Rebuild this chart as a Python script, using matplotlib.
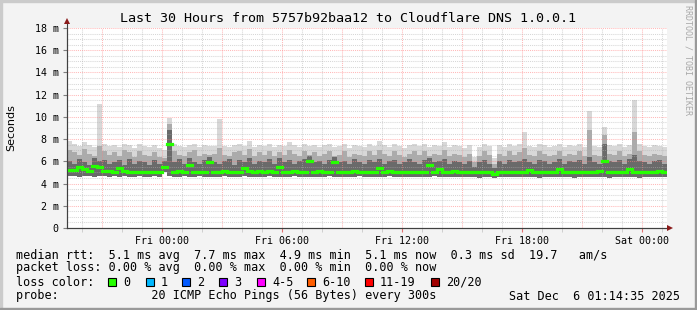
import numpy as np
import matplotlib
matplotlib.use("Agg")
import matplotlib.pyplot as plt
from matplotlib.lines import Line2D
from matplotlib.patches import Rectangle

# 15 minute bins, hours since Thu 00:00 (window Thu 19:14 -> Sat 01:14)
t_start = 19.243
t_end = 49.243

median = [5.2, 5.2, 5.5, 5.3, 5.1, 5.6, 5.5, 5.1, 5.1, 5.0,
          5.4, 5.1, 5.0, 5.0, 5.0, 5.0, 5.0, 5.0, 5.0, 5.5,
          7.6, 5.0, 5.1, 5.0, 5.7, 5.0, 5.0, 5.0, 5.9, 5.0,
          5.0, 5.1, 5.0, 5.0, 5.0, 5.4, 5.1, 5.0, 5.1, 5.0,
          5.1, 5.0, 5.5, 5.0, 5.0, 5.1, 5.0, 5.0, 6.0, 5.0,
          5.1, 5.0, 5.0, 5.9, 5.0, 5.0, 5.0, 5.1, 5.0, 5.0,
          5.0, 5.0, 5.4, 5.0, 5.1, 5.0, 5.0, 5.0, 5.0, 5.0,
          5.0, 5.0, 5.7, 5.0, 5.3, 5.0, 5.0, 5.1, 5.0, 5.0,
          5.0, 5.0, 5.0, 5.0, 5.0, 4.9, 5.0, 5.0, 5.0, 5.0,
          5.0, 5.0, 5.2, 5.0, 5.0, 5.0, 5.0, 5.0, 5.3, 5.0,
          5.0, 5.0, 5.0, 5.0, 5.0, 5.0, 5.1, 6.0, 5.0, 5.0,
          5.0, 5.0, 5.3, 5.0, 5.0, 5.0, 5.0, 5.0, 5.1, 5.0]

smoke_hi = [7.8, 7.6, 7.4, 7.7, 7.5, 7.3, 11.2, 7.6, 7.4, 7.5,
            7.3, 7.6, 7.5, 7.2, 7.6, 7.4, 7.3, 7.5, 7.2, 7.0,
            9.9, 7.6, 7.4, 7.3, 7.5, 7.6, 7.3, 7.5, 7.4, 7.4,
            9.8, 7.4, 7.3, 7.5, 7.6, 7.4, 7.8, 7.3, 7.5, 7.4,
            7.6, 7.3, 7.5, 7.4, 7.7, 7.5, 7.3, 7.6, 7.4, 7.5,
            7.3, 7.5, 7.6, 7.3, 7.4, 7.6, 7.2, 7.5, 7.4, 7.3,
            7.6, 7.4, 7.8, 7.5, 7.3, 7.6, 7.4, 7.2, 7.5, 7.6,
            7.4, 7.6, 7.3, 7.5, 7.4, 7.7, 7.3, 7.5, 7.4, 7.2,
            7.5, 6.4, 7.3, 7.6, 7.4, 6.3, 7.5, 7.3, 7.6, 7.4,
            7.6, 8.6, 7.4, 7.3, 7.6, 7.5, 7.3, 7.4, 7.6, 7.3,
            7.5, 7.4, 7.6, 7.3, 10.5, 7.4, 7.3, 9.1, 7.5, 7.4,
            7.6, 7.3, 7.5, 11.5, 7.6, 7.4, 7.3, 7.5, 7.4, 7.3]

smoke_p90 = [7.0, 6.8, 6.6, 7.1, 6.7, 6.5, 7.4, 6.9, 6.6, 6.8,
             6.5, 7.0, 6.8, 6.4, 6.9, 6.6, 6.5, 6.8, 6.4, 6.3,
             9.4, 6.9, 6.6, 6.5, 6.8, 7.0, 6.5, 6.7, 6.6, 6.7,
             7.2, 6.6, 6.5, 6.8, 6.9, 6.6, 7.1, 6.5, 6.8, 6.6,
             6.9, 6.5, 6.8, 6.6, 7.0, 6.7, 6.5, 6.9, 6.6, 6.8,
             6.5, 6.7, 6.9, 6.5, 6.6, 6.9, 6.4, 6.7, 6.6, 6.5,
             6.9, 6.6, 7.0, 6.7, 6.5, 6.9, 6.6, 6.4, 6.7, 6.9,
             6.6, 6.9, 6.5, 6.7, 6.6, 7.0, 6.5, 6.7, 6.6, 6.4,
             6.7, 5.9, 6.5, 6.9, 6.6, 5.8, 6.7, 6.5, 6.9, 6.6,
             6.8, 7.2, 6.6, 6.5, 6.9, 6.7, 6.5, 6.6, 6.9, 6.5,
             6.7, 6.6, 6.9, 6.5, 8.8, 6.6, 6.5, 8.4, 6.7, 6.6,
             6.9, 6.5, 6.7, 8.6, 6.9, 6.6, 6.5, 6.7, 6.6, 6.5]

smoke_p75 = [6.0, 5.8, 6.2, 5.9, 5.7, 6.3, 6.0, 6.1, 5.8, 5.9,
             6.1, 5.7, 6.2, 5.8, 6.0, 5.9, 5.7, 6.1, 5.8, 6.0,
             8.8, 5.9, 6.2, 5.8, 6.3, 5.9, 5.8, 6.1, 6.4, 5.9,
             5.8, 6.0, 6.2, 5.7, 6.1, 5.9, 6.3, 5.8, 6.0, 5.9,
             6.2, 5.8, 6.3, 5.9, 6.1, 5.8, 6.0, 6.2, 6.5, 5.9,
             6.0, 5.8, 6.1, 6.4, 5.9, 6.0, 5.8, 6.2, 5.9, 5.8,
             6.1, 5.9, 6.2, 5.8, 6.0, 6.1, 5.8, 5.9, 6.2, 5.9,
             5.8, 6.1, 6.3, 5.9, 6.0, 6.2, 5.8, 6.0, 5.9, 5.8,
             6.0, 5.5, 5.9, 6.1, 5.8, 5.4, 6.0, 5.8, 6.1, 5.9,
             6.0, 6.2, 5.9, 5.8, 6.1, 6.0, 5.8, 5.9, 6.2, 5.8,
             6.0, 5.9, 6.1, 5.8, 6.4, 5.9, 5.8, 7.6, 6.0, 5.9,
             6.1, 5.8, 6.2, 6.6, 6.0, 5.9, 5.8, 6.0, 6.1, 5.8]

smoke_lo = [4.7, 4.7, 4.6, 4.7, 4.7, 4.6, 4.7, 4.7, 4.6, 4.7,
            4.6, 4.7, 4.6, 4.6, 4.7, 4.6, 4.6, 4.7, 4.6, 5.0,
            4.7, 4.6, 4.6, 4.7, 4.6, 4.6, 4.7, 4.6, 4.6, 4.6,
            4.6, 4.7, 4.6, 4.6, 4.6, 4.7, 4.6, 4.6, 4.6, 4.6,
            4.7, 4.6, 4.6, 4.6, 4.6, 4.7, 4.6, 4.6, 4.6, 4.6,
            4.6, 4.6, 4.7, 4.6, 4.6, 4.6, 4.6, 4.6, 4.7, 4.6,
            4.6, 4.6, 4.6, 4.6, 4.7, 4.6, 4.6, 4.6, 4.6, 4.6,
            4.6, 4.6, 4.6, 4.7, 4.6, 4.6, 4.6, 4.6, 4.6, 4.6,
            4.6, 4.6, 4.5, 4.6, 4.6, 4.5, 4.6, 4.6, 4.6, 4.6,
            4.6, 4.6, 4.6, 4.6, 4.5, 4.6, 4.6, 4.6, 4.6, 4.6,
            4.6, 4.5, 4.6, 4.6, 4.6, 4.6, 4.6, 4.6, 4.5, 4.6,
            4.6, 4.6, 4.6, 4.6, 4.5, 4.6, 4.6, 4.6, 4.6, 4.6]

xtick_pos = [24, 30, 36, 42, 48]
xtick_labels = ["Fri 00:00", "Fri 06:00", "Fri 12:00", "Fri 18:00", "Sat 00:00"]
ytick_pos = [0, 2, 4, 6, 8, 10, 12, 14, 16, 18]
ytick_labels = ["0"] + ["%d m" % v for v in ytick_pos[1:]]

loss_labels = ["0", "1", "2", "3", "4-5", "6-10", "11-19", "20/20"]
loss_colors = ["#26ff00", "#00b8ff", "#0059ff", "#7e00ff", "#ff00ff", "#ff5e00", "#ff0000", "#a10000"]
loss_box_x = [108, 146, 182, 219, 257, 307, 365, 431]

W, H = 697, 310
MONO = "DejaVu Sans Mono"


def fx(x):
    return x / W


def fy(y):
    return 1 - y / H


fig = plt.figure(figsize=(W / 100, H / 100), dpi=100)
fig.patch.set_facecolor("#f3f3f3")

ax = fig.add_axes([fx(67), fy(228), 600 / W, 200 / H])
ax.set_facecolor("white")
ax.set_xlim(t_start, t_end)
ax.set_ylim(0, 18)

n = len(median)
edges = t_start + 0.25 * np.arange(n + 1) + 0.007


def ext(a):
    return np.append(a, a[-1])


ax.fill_between(edges, ext(smoke_lo), ext(smoke_hi), step="post", color="#d8d8d8", lw=0)
ax.fill_between(edges, ext(smoke_lo), ext(smoke_p90), step="post", color="#ababab", lw=0)
ax.fill_between(edges, ext(smoke_lo), ext(smoke_p75), step="post", color="#6a6a6a", lw=0)
# median drawn as flat pieces only, no green risers
ax.hlines(median, edges[:-1], edges[1:], color="#26ff00", lw=2.3, zorder=6,
          capstyle="projecting")

# grid drawn on top, the way rrdtool does it
for h in range(20, 50):
    major = h % 3 == 0
    ax.axvline(h, color="#ff8080" if major else "#b0b0b0", alpha=0.55 if major else 0.5,
               lw=0.75, ls=(0, (1, 1)), zorder=5)
for v in np.arange(0.5, 18.01, 0.5):
    major = abs(v % 2) < 1e-6
    ax.axhline(v, color="#ff8080" if major else "#b0b0b0", alpha=0.55 if major else 0.5,
               lw=0.75, ls=(0, (1, 1)), zorder=5)

for s in ["top", "right"]:
    ax.spines[s].set_visible(False)
ax.spines["left"].set_color("#404040")
ax.spines["bottom"].set_color("#404040")
ax.spines["left"].set_linewidth(0.8)
ax.spines["bottom"].set_linewidth(0.8)

ax.set_xticks(xtick_pos)
ax.set_xticklabels(xtick_labels, fontsize=7.2, fontfamily=MONO)
ax.set_xticks([h for h in range(20, 50) if h % 3 != 0], minor=True)
ax.tick_params(axis="x", which="major", length=3, color="#e07070", pad=3)
ax.tick_params(axis="x", which="minor", length=3, color="#c8c8c8")
ax.set_yticks(ytick_pos)
ax.set_yticklabels(ytick_labels, fontsize=7.2, fontfamily=MONO)
ax.tick_params(axis="y", length=3, color="#808080", pad=3)

# axis arrows
fig.add_artist(Line2D([fx(67), fx(67)], [fy(228), fy(22)], color="#404040", lw=0.8))
fig.add_artist(Line2D([fx(67), fx(670)], [fy(228), fy(228)], color="#404040", lw=0.8))
fig.add_artist(Line2D([fx(67)], [fy(21)], marker="^", ms=5, color="#8b1a1a", mew=0))
fig.add_artist(Line2D([fx(670)], [fy(228)], marker=">", ms=5, color="#8b1a1a", mew=0))

fig.text(fx(348), fy(18), "Last 30 Hours from 5757b92baa12 to Cloudflare DNS 1.0.0.1",
         ha="center", va="center", fontsize=9.6, fontfamily=MONO)
fig.text(fx(11), fy(128), "Seconds", rotation=90, ha="center", va="center",
         fontsize=8, fontfamily="DejaVu Sans")
fig.text(fx(688), fy(60), "RRDTOOL / TOBI OETIKER", rotation=270, ha="center",
         va="center", fontsize=6, fontfamily=MONO, color="#a8a8a8")

lines = [
    (255, "median rtt:  5.1 ms avg  7.7 ms max  4.9 ms min  5.1 ms now  0.3 ms sd  19.7   am/s"),
    (268, "packet loss: 0.00 % avg  0.00 % max  0.00 % min  0.00 % now"),
    (282, "loss color:"),
    (296, "probe:             20 ICMP Echo Pings (56 Bytes) every 300s"),
]
for y, s in lines:
    fig.text(fx(16), fy(y), s, ha="left", va="center", fontsize=8.5, fontfamily=MONO)

fig.text(fx(680), fy(296), "Sat Dec  6 01:14:35 2025", ha="right", va="center",
         fontsize=8.5, fontfamily=MONO)

for bx, lab, col in zip(loss_box_x, loss_labels, loss_colors):
    fig.add_artist(Rectangle((fx(bx), fy(286)), 8 / W, 8 / H, facecolor=col,
                             edgecolor="black", lw=0.8, transform=fig.transFigure))
    fig.text(fx(bx + 15), fy(282), lab, ha="left", va="center", fontsize=8.5,
             fontfamily=MONO)

# 3d frame
fig.add_artist(Rectangle((0, 0), 2 / W, 1, color="#cbcbcb", transform=fig.transFigure))
fig.add_artist(Rectangle((0, 1 - 2 / H), 1, 2 / H, color="#cbcbcb", transform=fig.transFigure))
fig.add_artist(Rectangle((1 - 2 / W, 0), 2 / W, 1, color="#999999", transform=fig.transFigure))
fig.add_artist(Rectangle((0, 0), 1, 2 / H, color="#999999", transform=fig.transFigure))

fig.savefig("out.png", dpi=100, facecolor=fig.get_facecolor())
